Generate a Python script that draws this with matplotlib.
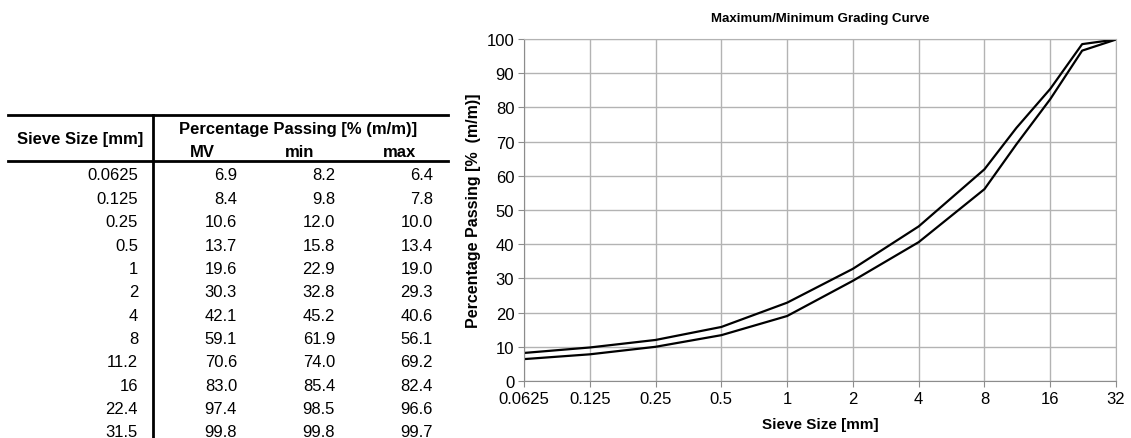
import numpy as np
import matplotlib
matplotlib.use("Agg")
import matplotlib.pyplot as plt

plt.rcParams['font.family'] = ['Liberation Sans', 'DejaVu Sans']

# table / chart data
sieve = [0.0625, 0.125, 0.25, 0.5, 1, 2, 4, 8, 11.2, 16, 22.4, 31.5]
sieve_lbl = ["0.0625", "0.125", "0.25", "0.5", "1", "2", "4", "8", "11.2", "16", "22.4", "31.5"]
mv = [6.9, 8.4, 10.6, 13.7, 19.6, 30.3, 42.1, 59.1, 70.6, 83.0, 97.4, 99.8]
pmin = [8.2, 9.8, 12.0, 15.8, 22.9, 32.8, 45.2, 61.9, 74.0, 85.4, 98.5, 99.8]
pmax = [6.4, 7.8, 10.0, 13.4, 19.0, 29.3, 40.6, 56.1, 69.2, 82.4, 96.6, 99.7]
xticks = [0.0625, 0.125, 0.25, 0.5, 1, 2, 4, 8, 16, 32]
xtick_lbl = ["0.0625", "0.125", "0.25", "0.5", "1", "2", "4", "8", "16", "32"]

W, H = 1131, 439
fig = plt.figure(figsize=(W / 100, H / 100), dpi=100)

# --- table drawn in pixel coordinates ---
tab = fig.add_axes([0, 0, 1, 1])
tab.set_xlim(0, W)
tab.set_ylim(H, 0)
tab.axis('off')

fs = 12
tab.plot([8, 448], [116, 116], color='black', lw=2)
tab.plot([8, 448], [162, 162], color='black', lw=2)
tab.plot([153, 153], [116, 439], color='black', lw=2)

tab.text(80, 140, "Sieve Size [mm]", ha='center', va='center', fontsize=fs, fontweight='bold')
tab.text(298, 130, "Percentage Passing [% (m/m)]", ha='center', va='center', fontsize=fs, fontweight='bold')
tab.text(202, 153, "MV", ha='center', va='center', fontsize=fs, fontweight='bold')
tab.text(300, 153, "min", ha='center', va='center', fontsize=fs, fontweight='bold')
tab.text(400, 153, "max", ha='center', va='center', fontsize=fs, fontweight='bold')

for i in range(len(sieve)):
    y = 176 + 23.35 * i
    tab.text(138, y, sieve_lbl[i], ha='right', va='center', fontsize=fs)
    tab.text(237, y, "%.1f" % mv[i], ha='right', va='center', fontsize=fs)
    tab.text(335, y, "%.1f" % pmin[i], ha='right', va='center', fontsize=fs)
    tab.text(433, y, "%.1f" % pmax[i], ha='right', va='center', fontsize=fs)

# --- grading curve ---
ax = fig.add_axes([524 / W, 1 - 382 / H, 592 / W, 342 / H])
ax.plot(sieve, pmin, color='black', lw=1.6)
ax.plot(sieve, pmax, color='black', lw=1.6)
ax.set_xscale('log', base=2)
ax.set_xlim(0.0625, 32)
ax.set_ylim(0, 100)
ax.set_xticks(xticks)
ax.set_xticklabels(xtick_lbl)
ax.minorticks_off()
ax.set_yticks(np.arange(0, 101, 10))
ax.grid(True, color='#b3b3b3', lw=1)
for s in ax.spines.values():
    s.set_color('#b3b3b3')
ax.spines['left'].set_color('#8c8c8c')
ax.spines['bottom'].set_color('#8c8c8c')
ax.tick_params(axis='both', direction='out', length=4, color='#8c8c8c', labelsize=12, pad=3)
ax.set_title("Maximum/Minimum Grading Curve", fontsize=9.5, fontweight='bold', pad=13)
ax.set_xlabel("Sieve Size [mm]", fontsize=11, fontweight='bold', labelpad=8)
ax.set_ylabel("Percentage Passing [%  (m/m)]", fontsize=11.5, fontweight='bold', labelpad=4)

fig.savefig("out.png", dpi=100)
